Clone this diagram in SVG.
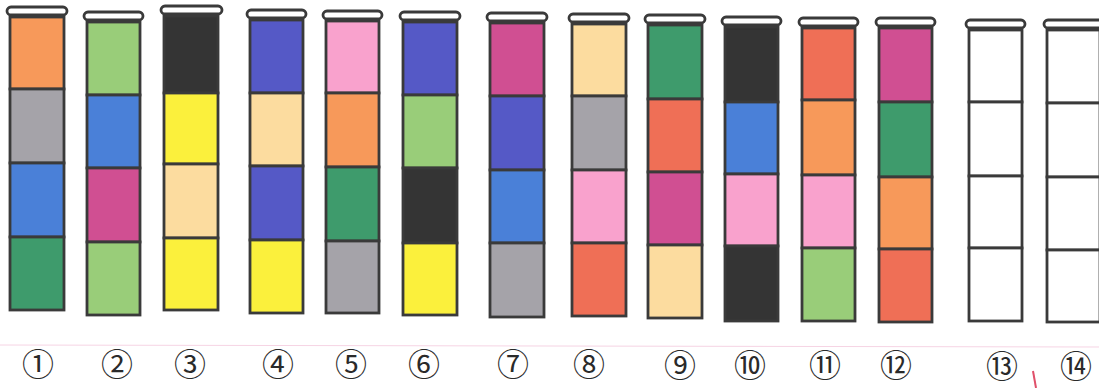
<svg xmlns="http://www.w3.org/2000/svg" width="1099" height="388" viewBox="0 0 1099 388">
<style>
.cap{fill:#fff;stroke:#3a3a3a;stroke-width:2.8}
.cl{stroke:#3a3a3a;stroke-width:2.8}
.or{fill:#f7995a}.gy{fill:#a5a3a9}.bl{fill:#4a80d8}.dg{fill:#3e9b6c}.lg{fill:#99cd79}
.mg{fill:#d04f92}.bk{fill:#343434}.ye{fill:#fbf03c}.be{fill:#fcdc9f}.in{fill:#5559c6}
.pk{fill:#f9a2cd}.ro{fill:#ef6f56}.wh{fill:#fff}
.lbl{font-family:"Noto Sans CJK JP","DejaVu Sans",sans-serif;font-size:32px;fill:#2a2a2a;text-anchor:middle}
</style>
<rect width="1099" height="388" fill="#fff"/>
<line x1="0" y1="345" x2="1099" y2="347" stroke="#f6d4e4" stroke-width="1"/>

<g id="tube1">
<rect class="cl or" x="10" y="17" width="54" height="72"/>
<rect class="cl gy" x="10" y="89" width="54" height="74"/>
<rect class="cl bl" x="10" y="163" width="54" height="74"/>
<rect class="cl dg" x="10" y="237" width="54" height="73"/>
<rect class="cap" x="7" y="7" width="60" height="8" rx="4"/>
</g>
<g id="tube2">
<rect class="cl lg" x="87" y="22" width="53" height="73"/>
<rect class="cl bl" x="87" y="95" width="53" height="73"/>
<rect class="cl mg" x="87" y="168" width="53" height="74"/>
<rect class="cl lg" x="87" y="242" width="53" height="73"/>
<rect class="cap" x="84" y="12" width="59" height="8" rx="4"/>
</g>
<g id="tube3">
<rect class="cl bk" x="164" y="16" width="54" height="77"/>
<rect class="cl ye" x="164" y="93" width="54" height="71"/>
<rect class="cl be" x="164" y="164" width="54" height="74"/>
<rect class="cl ye" x="164" y="238" width="54" height="72"/>
<rect class="cap" x="161" y="6" width="61" height="8" rx="4"/>
</g>
<g id="tube4">
<rect class="cl in" x="250" y="20" width="53" height="73"/>
<rect class="cl be" x="250" y="93" width="53" height="73"/>
<rect class="cl in" x="250" y="166" width="53" height="74"/>
<rect class="cl ye" x="250" y="240" width="53" height="73"/>
<rect class="cap" x="247" y="10" width="59" height="8" rx="4"/>
</g>
<g id="tube5">
<rect class="cl pk" x="326" y="21" width="53" height="72"/>
<rect class="cl or" x="326" y="93" width="53" height="74"/>
<rect class="cl dg" x="326" y="167" width="53" height="74"/>
<rect class="cl gy" x="326" y="241" width="53" height="72"/>
<rect class="cap" x="323" y="11" width="59" height="8" rx="4"/>
</g>
<g id="tube6">
<rect class="cl in" x="403" y="22" width="54" height="73"/>
<rect class="cl lg" x="403" y="95" width="54" height="73"/>
<rect class="cl bk" x="403" y="168" width="54" height="75"/>
<rect class="cl ye" x="403" y="243" width="54" height="72"/>
<rect class="cap" x="400" y="12" width="60" height="8" rx="4"/>
</g>
<g id="tube7">
<rect class="cl mg" x="490" y="23" width="54" height="73"/>
<rect class="cl in" x="490" y="96" width="54" height="74"/>
<rect class="cl bl" x="490" y="170" width="54" height="73"/>
<rect class="cl gy" x="490" y="243" width="54" height="74"/>
<rect class="cap" x="487" y="13" width="60" height="8" rx="4"/>
</g>
<g id="tube8">
<rect class="cl be" x="572" y="24" width="54" height="72"/>
<rect class="cl gy" x="572" y="96" width="54" height="74"/>
<rect class="cl pk" x="572" y="170" width="54" height="73"/>
<rect class="cl ro" x="572" y="243" width="54" height="73"/>
<rect class="cap" x="569" y="14" width="60" height="8" rx="4"/>
</g>
<g id="tube9">
<rect class="cl dg" x="648" y="25" width="54" height="74"/>
<rect class="cl ro" x="648" y="99" width="54" height="73"/>
<rect class="cl mg" x="648" y="172" width="54" height="73"/>
<rect class="cl be" x="648" y="245" width="54" height="73"/>
<rect class="cap" x="645" y="15" width="60" height="8" rx="4"/>
</g>
<g id="tube10">
<rect class="cl bk" x="725" y="27" width="53" height="75"/>
<rect class="cl bl" x="725" y="102" width="53" height="72"/>
<rect class="cl pk" x="725" y="174" width="53" height="72"/>
<rect class="cl bk" x="725" y="246" width="53" height="75"/>
<rect class="cap" x="722" y="17" width="59" height="8" rx="4"/>
</g>
<g id="tube11">
<rect class="cl ro" x="802" y="28" width="53" height="72"/>
<rect class="cl or" x="802" y="100" width="53" height="75"/>
<rect class="cl pk" x="802" y="175" width="53" height="73"/>
<rect class="cl lg" x="802" y="248" width="53" height="73"/>
<rect class="cap" x="799" y="18" width="59" height="8" rx="4"/>
</g>
<g id="tube12">
<rect class="cl mg" x="879" y="28" width="53" height="74"/>
<rect class="cl dg" x="879" y="102" width="53" height="75"/>
<rect class="cl or" x="879" y="177" width="53" height="72"/>
<rect class="cl ro" x="879" y="249" width="53" height="73"/>
<rect class="cap" x="876" y="18" width="59" height="8" rx="4"/>
</g>
<g id="tube13">
<rect class="cl wh" x="969" y="30" width="53" height="72"/>
<rect class="cl wh" x="969" y="102" width="53" height="74"/>
<rect class="cl wh" x="969" y="176" width="53" height="72"/>
<rect class="cl wh" x="969" y="248" width="53" height="73"/>
<rect class="cap" x="966" y="20" width="59" height="8" rx="4"/>
</g>
<g id="tube14">
<rect class="cl wh" x="1047" y="30" width="53" height="73"/>
<rect class="cl wh" x="1047" y="103" width="53" height="74"/>
<rect class="cl wh" x="1047" y="177" width="53" height="73"/>
<rect class="cl wh" x="1047" y="250" width="53" height="72"/>
<rect class="cap" x="1044" y="20" width="59" height="8" rx="4"/>
</g>

<g id="labels">
<text class="lbl" x="38" y="376">①</text>
<text class="lbl" x="117" y="376">②</text>
<text class="lbl" x="190" y="376">③</text>
<text class="lbl" x="278" y="376">④</text>
<text class="lbl" x="351" y="376">⑤</text>
<text class="lbl" x="424" y="376">⑥</text>
<text class="lbl" x="513" y="376">⑦</text>
<text class="lbl" x="589" y="376">⑧</text>
<text class="lbl" x="680" y="377">⑨</text>
<text class="lbl" x="750" y="377">⑩</text>
<text class="lbl" x="825" y="377">⑪</text>
<text class="lbl" x="896" y="377">⑫</text>
<text class="lbl" x="1002" y="378">⑬</text>
<text class="lbl" x="1076" y="378">⑭</text>
</g>
<path d="M1033 371 L1036 388" stroke="#e0506a" stroke-width="2" fill="none"/>
</svg>
